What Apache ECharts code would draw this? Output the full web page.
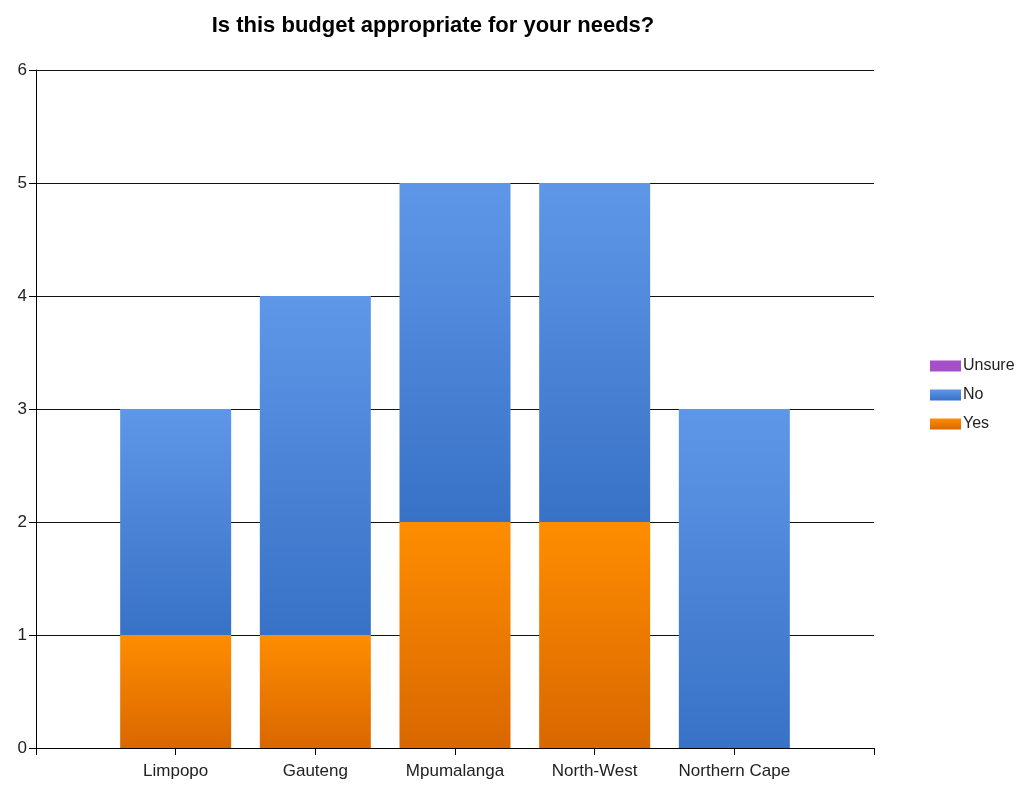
<!DOCTYPE html>
<html>
<head>
<meta charset="utf-8">
<script src="https://cdn.jsdelivr.net/npm/echarts@6/dist/echarts.min.js"></script>
<style>
  html, body { margin: 0; padding: 0; background: #fff; }
  #chart { width: 1016px; height: 785px; }
</style>
</head>
<body>
<div id="chart"></div>
<script>
// Provinces along the horizontal axis
const categories = ['Limpopo', 'Gauteng', 'Mpumalanga', 'North-West', 'Northern Cape'];
// Answer counts per province
const yesValues = [1, 1, 2, 2, 0];
const noValues = [2, 3, 3, 3, 3];
const unsureValues = [0, 0, 0, 0, 0];
// Vertical axis tick labels
const yTicks = [0, 1, 2, 3, 4, 5, 6];

const chart = echarts.init(document.getElementById('chart'));

// The axis keeps an empty slot on each side of the provinces
const axisCategories = [''].concat(categories, ['']);
const padded = vals => ['-'].concat(vals, ['-']);

const grad = (top, bottom) => new echarts.graphic.LinearGradient(0, 0, 0, 1, [
  { offset: 0, color: top },
  { offset: 1, color: bottom }
]);

const font = 'Arial, "Liberation Sans", sans-serif';

chart.setOption({
  animation: false,
  title: {
    text: 'Is this budget appropriate for your needs?',
    left: 428,
    top: 10,
    textAlign: 'center',
    textStyle: { fontFamily: font, fontSize: 22, fontWeight: 'bold', color: '#000' }
  },
  legend: {
    orient: 'vertical',
    left: 925,
    top: 353,
    itemWidth: 31,
    itemHeight: 11,
    itemGap: 13,
    icon: 'rect',
    data: ['Unsure', 'No', 'Yes'],
    textStyle: { fontFamily: font, fontSize: 16, color: '#222', padding: [0, 0, 0, -3] }
  },
  grid: { left: 36, right: 142, top: 70, bottom: 37, containLabel: false },
  xAxis: {
    type: 'category',
    data: axisCategories,
    boundaryGap: false,
    axisLine: { show: true, lineStyle: { color: '#000', width: 1 } },
    axisTick: { show: true, length: 7, alignWithLabel: true, lineStyle: { color: '#000' } },
    splitLine: { show: false },
    axisLabel: { fontFamily: font, fontSize: 17, color: '#222', margin: 15, interval: 0 }
  },
  yAxis: {
    type: 'value',
    min: yTicks[0],
    max: yTicks[yTicks.length - 1],
    interval: 1,
    axisLine: { show: true, lineStyle: { color: '#000', width: 1 } },
    axisTick: { show: true, length: 7, lineStyle: { color: '#000' } },
    splitLine: { show: true, lineStyle: { color: '#111', width: 1 } },
    axisLabel: { fontFamily: font, fontSize: 17, color: '#222', margin: 9 }
  },
  series: [
    {
      name: 'Yes', type: 'bar', stack: 'total', barWidth: 111,
      data: padded(yesValues),
      itemStyle: { color: grad('#ff8d00', '#d96700') },
      z: 3
    },
    {
      name: 'No', type: 'bar', stack: 'total', barWidth: 111,
      data: padded(noValues),
      itemStyle: { color: grad('#5f97e8', '#3872c6') },
      z: 3
    },
    {
      name: 'Unsure', type: 'bar', stack: 'total', barWidth: 111,
      data: padded(unsureValues),
      itemStyle: { color: '#a54fc9' },
      z: 3
    }
  ]
});
</script>
</body>
</html>
